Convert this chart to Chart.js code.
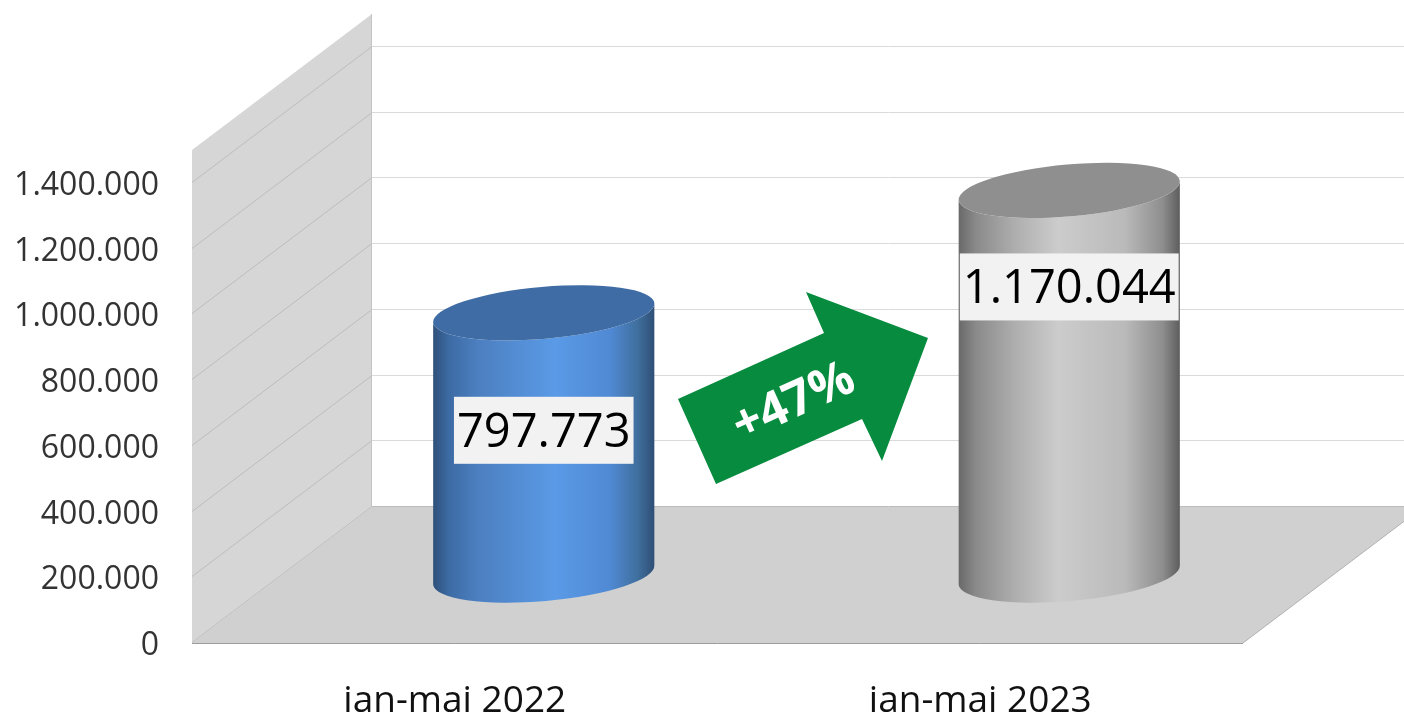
<!DOCTYPE html>
<html>
<head>
<meta charset="utf-8">
<title>ian-mai 2022 / 2023</title>
<script src="https://cdn.jsdelivr.net/npm/chart.js@4/dist/chart.umd.min.js"></script>
<style>
  html, body { margin: 0; padding: 0; background: #fff; overflow: hidden; }
  canvas { display: block; }
</style>
</head>
<body>
<canvas id="myChart" width="1404" height="716"></canvas>
<script>
var categories = ['ian-mai 2022', 'ian-mai 2023'];
var values = [797773, 1170044];
var yMax = 1500000;
var yTicks = [0, 200000, 400000, 600000, 800000, 1000000, 1200000, 1400000];
var changeLabel = '+47%';

// depth of the fake 3d box, in pixels
var depthX = 180;
var depthY = -136;

var topColors = ['#3f6ca4', '#8f8f8f'];
var bodyStops = [
  [[0, '#2f4f78'], [0.07, '#3c6aa3'], [0.2, '#4c7fc0'], [0.55, '#5a9ae6'], [0.8, '#5089d4'], [0.92, '#40709f'], [1, '#2e4e75']],
  [[0, '#686868'], [0.08, '#8a8a8a'], [0.25, '#adadad'], [0.45, '#cccccc'], [0.75, '#bababa'], [0.92, '#8e8e8e'], [1, '#5c5c5c']]
];
var labelDrop = [117.5, 96.5];

function dots(v) {
  return String(v).replace(/\B(?=(\d{3})+(?!\d))/g, '.');
}

var box3d = {
  id: 'box3d',
  beforeDatasetsDraw: function (chart) {
    var ctx = chart.ctx, a = chart.chartArea, y = chart.scales.y;
    var farRight = a.right + depthX;

    ctx.save();
    // left wall
    ctx.fillStyle = '#d6d6d6';
    ctx.beginPath();
    ctx.moveTo(a.left, a.top);
    ctx.lineTo(a.left + depthX, a.top + depthY);
    ctx.lineTo(a.left + depthX, a.bottom + depthY);
    ctx.lineTo(a.left, a.bottom);
    ctx.closePath();
    ctx.fill();

    // floor
    ctx.fillStyle = '#d0d0d0';
    ctx.beginPath();
    ctx.moveTo(a.left, a.bottom);
    ctx.lineTo(a.left + depthX, a.bottom + depthY);
    ctx.lineTo(farRight, a.bottom + depthY);
    ctx.lineTo(a.right, a.bottom);
    ctx.closePath();
    ctx.fill();

    // gridlines, left wall then back wall
    ctx.lineWidth = 1;
    y.ticks.forEach(function (t) {
      var py = Math.round(y.getPixelForValue(t.value)) - 0.5;
      ctx.strokeStyle = '#bdbdbd';
      ctx.beginPath();
      ctx.moveTo(a.left, py);
      ctx.lineTo(a.left + depthX, py + depthY);
      ctx.stroke();
      ctx.strokeStyle = t.value === 0 ? '#bcbcbc' : '#dadada';
      ctx.beginPath();
      ctx.moveTo(a.left + depthX, py + depthY);
      ctx.lineTo(farRight, py + depthY);
      ctx.stroke();
    });

    // edges
    ctx.strokeStyle = '#c4c4c4';
    ctx.beginPath();
    ctx.moveTo(a.left + depthX - 0.5, a.top + depthY);
    ctx.lineTo(a.left + depthX - 0.5, a.bottom + depthY);
    ctx.stroke();
    ctx.strokeStyle = '#b0b0b0';
    ctx.beginPath();
    ctx.moveTo(a.right, a.bottom);
    ctx.lineTo(farRight, a.bottom + depthY);
    ctx.stroke();
    ctx.strokeStyle = '#9c9c9c';
    ctx.beginPath();
    ctx.moveTo(a.left, a.bottom + 0.5);
    ctx.lineTo(a.right, a.bottom + 0.5);
    ctx.stroke();
    ctx.restore();
  },
  // the bars are drawn as cylinders in the middle of the box depth
  beforeDatasetDraw: function (chart, args) {
    var ctx = chart.ctx;
    args.meta.data.forEach(function (bar, i) {
      var p = bar.getProps(['x', 'y', 'base', 'width'], true);
      var cx = p.x + depthX / 2 - 1;
      var topY = p.y + depthY / 2;
      var baseY = p.base + depthY / 2;
      var rx = p.width / 2;
      var ry = 26;
      var tilt = -5 * Math.PI / 180;

      var g = ctx.createLinearGradient(cx - rx, 0, cx + rx, 0);
      bodyStops[i].forEach(function (s) { g.addColorStop(s[0], s[1]); });

      ctx.save();
      ctx.fillStyle = g;
      ctx.beginPath();
      ctx.ellipse(cx, topY, rx, ry, tilt, Math.PI, 0, true);
      ctx.ellipse(cx, baseY, rx, ry, tilt, 0, Math.PI, false);
      ctx.closePath();
      ctx.fill();

      ctx.fillStyle = topColors[i];
      ctx.beginPath();
      ctx.ellipse(cx, topY, rx, ry, tilt, 0, Math.PI * 2);
      ctx.fill();

      // value label
      var txt = dots(values[i]);
      ctx.font = '47px "Open Sans"';
      ctx.textAlign = 'center';
      ctx.textBaseline = 'middle';
      var w = ctx.measureText(txt).width + 6;
      var ly = topY + labelDrop[i];
      ctx.fillStyle = '#f2f2f2';
      ctx.fillRect(cx - w / 2, ly - 33.5, w, 67);
      ctx.fillStyle = '#000';
      ctx.fillText(txt, cx, ly + 3);
      ctx.restore();
    });
    return false;
  },
  afterDatasetsDraw: function (chart) {
    var ctx = chart.ctx;
    ctx.save();
    ctx.fillStyle = '#078b3e';
    ctx.beginPath();
    ctx.moveTo(928, 338);
    ctx.lineTo(806, 292);
    ctx.lineTo(824, 333);
    ctx.lineTo(678, 399);
    ctx.lineTo(716, 484);
    ctx.lineTo(862, 419);
    ctx.lineTo(882, 461);
    ctx.closePath();
    ctx.fill();

    ctx.translate(794, 403);
    ctx.rotate(-24.5 * Math.PI / 180);
    ctx.font = 'bold 49px "Open Sans"';
    ctx.textAlign = 'center';
    ctx.textBaseline = 'middle';
    ctx.fillStyle = '#fff';
    ctx.fillText(changeLabel, 0, 0);
    ctx.restore();
  }
};

var myChart = new Chart(document.getElementById('myChart'), {
  type: 'bar',
  data: {
    labels: categories,
    datasets: [{
      data: values,
      backgroundColor: topColors,
      categoryPercentage: 1,
      barPercentage: 0.4225
    }]
  },
  options: {
    responsive: false,
    animation: false,
    layout: { padding: { left: 0, right: 161, top: 150, bottom: 0 } },
    plugins: { legend: { display: false }, tooltip: { enabled: false } },
    scales: {
      x: {
        grid: { display: false },
        border: { display: false },
        afterFit: function (s) { s.height = 73; },
        ticks: {
          color: '#111',
          padding: 28,
          maxRotation: 0,
          font: { family: '"Open Sans"', size: 37 }
        }
      },
      y: {
        min: 0,
        max: yMax,
        grid: { display: false },
        border: { display: false },
        afterFit: function (s) { s.width = 192; },
        afterBuildTicks: function (s) {
          s.ticks = yTicks.map(function (v) { return { value: v }; });
        },
        ticks: {
          autoSkip: false,
          color: '#333',
          padding: 25,
          labelOffset: 3,
          font: { family: '"Open Sans"', size: 32 },
          callback: function (v) { return dots(v); }
        }
      }
    }
  },
  plugins: [box3d]
});
</script>
</body>
</html>
